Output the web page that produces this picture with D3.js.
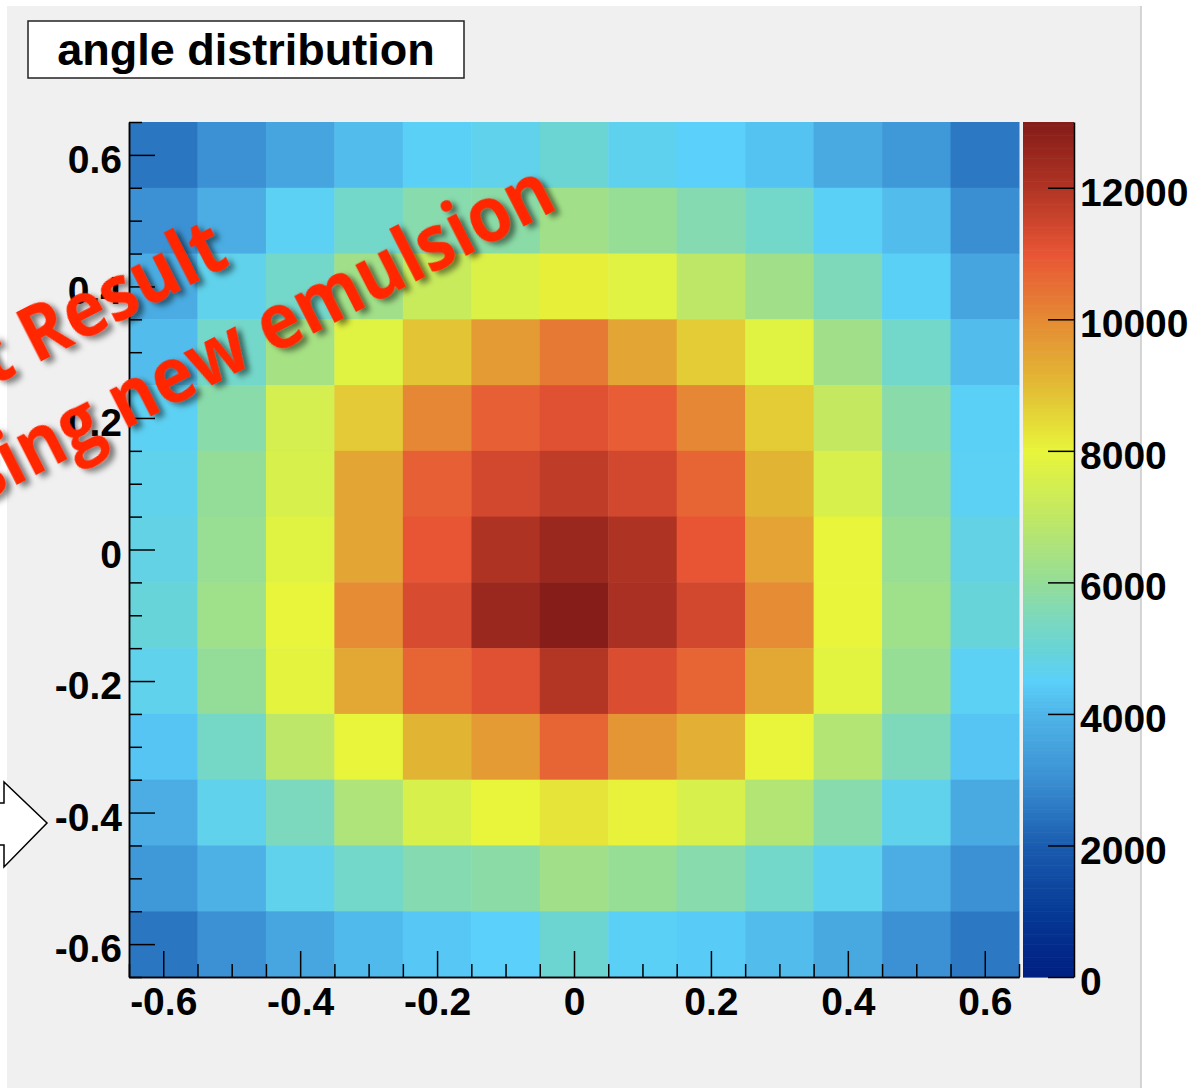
<!DOCTYPE html>
<html>
<head>
<meta charset="utf-8">
<script src="https://cdn.jsdelivr.net/npm/d3@7"></script>
<style>
  html, body { margin: 0; padding: 0; background: #ffffff; }
  svg { display: block; }
</style>
</head>
<body>
<svg id="chart" width="1196" height="1088"></svg>
<script>
// ---------- data ----------
const xBins = [-0.6, -0.5, -0.4, -0.3, -0.2, -0.1, 0.0, 0.1, 0.2, 0.3, 0.4, 0.5, 0.6];
const yBins = [0.6, 0.5, 0.4, 0.3, 0.2, 0.1, 0.0, -0.1, -0.2, -0.3, -0.4, -0.5, -0.6];
const binWidth = 0.1;
// counts per row, the row for y = 0.6 first
const counts = [
  [2500, 3050, 3550, 4150, 4550, 4700, 5050, 4650, 4500, 4250, 3700, 3250, 2550],
  [3050, 3800, 4600, 5250, 5700, 5800, 6300, 6050, 5650, 5250, 4550, 4150, 3000],
  [3750, 4700, 5250, 6300, 7200, 7700, 8100, 7800, 6950, 6300, 5500, 4550, 3550],
  [4150, 5250, 6400, 7800, 8850, 9650, 10300, 9450, 8700, 7800, 6300, 5250, 4150],
  [4600, 5750, 7500, 8750, 10050, 10800, 11150, 10850, 10050, 8700, 7100, 5750, 4550],
  [4700, 6000, 7600, 9450, 10800, 11400, 11750, 11400, 10700, 9150, 7600, 5900, 4600],
  [4800, 6100, 7800, 9450, 11000, 12050, 12500, 12050, 11000, 9500, 8000, 6100, 4800],
  [4950, 6250, 8000, 9950, 11300, 12500, 12950, 12150, 11400, 9950, 8000, 6250, 4950],
  [4700, 6000, 7900, 9400, 10700, 11150, 11950, 11250, 10700, 9400, 7850, 6050, 4600],
  [4300, 5300, 6900, 8000, 9150, 9650, 10700, 9750, 9250, 8000, 6700, 5500, 4300],
  [3800, 4700, 5450, 6600, 7600, 8000, 8300, 8050, 7600, 6700, 5700, 4700, 3700],
  [3250, 3900, 4700, 5250, 5650, 5800, 6300, 6050, 5700, 5250, 4650, 3800, 3050],
  [2500, 3050, 3600, 4100, 4350, 4500, 5100, 4550, 4400, 4150, 3650, 3050, 2550]
];
const xMajorTicks = [-0.6, -0.4, -0.2, 0, 0.2, 0.4, 0.6];
const xTickLabels = ["-0.6", "-0.4", "-0.2", "0", "0.2", "0.4", "0.6"];
const yMajorTicks = [-0.6, -0.4, -0.2, 0, 0.2, 0.4, 0.6];
const yTickLabels = ["-0.6", "-0.4", "-0.2", "0", "0.2", "0.4", "0.6"];
const minorTicks = [-0.65, -0.55, -0.5, -0.45, -0.35, -0.3, -0.25, -0.15, -0.1, -0.05,
                    0.05, 0.1, 0.15, 0.25, 0.3, 0.35, 0.45, 0.5, 0.55, 0.65];
const zTicks = [0, 2000, 4000, 6000, 8000, 10000, 12000];
const zTickLabels = ["0", "2000", "4000", "6000", "8000", "10000", "12000"];
const zMax = 13000;
const paletteValues = [0, 1000, 2000, 3000, 4000, 4500, 5000, 5500, 6000, 7000, 8000, 9000, 10000, 11000, 12000, 13000];
const paletteColors = ["#001e82", "#063a96", "#1a5caf", "#3a8fd2", "#4fb5e8", "#5ad0fa", "#68d4d6", "#7ed9bb",
                       "#94dd98", "#c0e864", "#e8f53a", "#e2bb34", "#e58a34", "#e85535", "#b03424", "#841c18"];
const titleText = "angle distribution";
const overlayLines = ["First Result", "using new emulsion"];

// ---------- layout ----------
const W = 1196, H = 1088;
const plot = { left: 129, right: 1019, top: 122, bottom: 977 };
const bar = { left: 1023, right: 1074 };
const font = "'Liberation Sans', Arial, Helvetica, sans-serif";

const svg = d3.select("#chart");

// canvas background
svg.append("rect").attr("x", 7).attr("y", 6).attr("width", 1134).attr("height", H - 6).attr("fill", "#f0f0f0");
svg.append("line").attr("x1", 1141).attr("x2", 1141).attr("y1", 6).attr("y2", H)
  .attr("stroke", "#c8c8c8").attr("stroke-width", 1.5);

const x = d3.scaleLinear().domain([-0.65, 0.65]).range([plot.left, plot.right]);
const y = d3.scaleLinear().domain([-0.65, 0.65]).range([plot.bottom, plot.top]);
const color = d3.scaleLinear().domain(paletteValues).range(paletteColors).interpolate(d3.interpolateRgb).clamp(true);
const z = d3.scaleLinear().domain([0, zMax]).range([plot.bottom, plot.top]);

// cells
const cells = [];
counts.forEach((row, i) => row.forEach((v, j) => cells.push({ x: xBins[j], y: yBins[i], v })));
svg.append("g").selectAll("rect").data(cells).join("rect")
  .attr("x", d => x(d.x - binWidth / 2))
  .attr("y", d => y(d.y + binWidth / 2))
  .attr("width", d => x(d.x + binWidth / 2) - x(d.x - binWidth / 2) + 0.5)
  .attr("height", d => y(d.y - binWidth / 2) - y(d.y + binWidth / 2) + 0.5)
  .attr("fill", d => color(d.v));

// axes
function styleAxis(g) {
  g.selectAll("path, line").attr("stroke", "#000").attr("stroke-width", 1.5);
  g.selectAll("text").attr("font-family", font).attr("font-weight", "bold").attr("font-size", 39).attr("fill", "#000");
}
const xAxis = svg.append("g").attr("transform", `translate(0,${plot.bottom})`)
  .call(d3.axisBottom(x).tickValues(xMajorTicks).tickSize(-26).tickSizeOuter(0).tickPadding(10)
    .tickFormat((d, i) => xTickLabels[i]));
styleAxis(xAxis);
const xMinor = svg.append("g").attr("transform", `translate(0,${plot.bottom})`)
  .call(d3.axisBottom(x).tickValues(minorTicks).tickSize(-13).tickSizeOuter(0).tickFormat(""));
styleAxis(xMinor);

const yAxis = svg.append("g").attr("transform", `translate(${plot.left},0)`)
  .call(d3.axisLeft(y).tickValues(yMajorTicks).tickSize(-26).tickSizeOuter(0).tickPadding(7)
    .tickFormat((d, i) => yTickLabels[i]));
styleAxis(yAxis);
yAxis.selectAll("text").attr("dy", "0.45em");
const yMinor = svg.append("g").attr("transform", `translate(${plot.left},0)`)
  .call(d3.axisLeft(y).tickValues(minorTicks).tickSize(-13).tickSizeOuter(0).tickFormat(""));
styleAxis(yMinor);

// colour bar
const bands = d3.range(0, zMax, 50);
svg.append("g").selectAll("rect").data(bands).join("rect")
  .attr("x", bar.left).attr("width", bar.right - bar.left)
  .attr("y", d => z(d + 50)).attr("height", d => z(d) - z(d + 50) + 0.6)
  .attr("fill", d => color(d + 25));
const zAxis = svg.append("g").attr("transform", `translate(${bar.right},0)`)
  .call(d3.axisRight(z).tickValues(zTicks).tickSize(-26).tickSizeOuter(0).tickPadding(6)
    .tickFormat((d, i) => zTickLabels[i]));
styleAxis(zAxis);
zAxis.selectAll("text").attr("dy", "0.45em");

// title box
svg.append("rect").attr("x", 28).attr("y", 21).attr("width", 436).attr("height", 57)
  .attr("fill", "#fff").attr("stroke", "#222").attr("stroke-width", 1.5);
svg.append("text").attr("x", 246).attr("y", 65).attr("text-anchor", "middle")
  .attr("font-family", font).attr("font-weight", "bold").attr("font-size", 45).text(titleText);

// arrow shape at left
svg.append("path")
  .attr("d", "M-2,803 L4,803 L4,782 L47,823 L4,867 L4,845 L-2,845")
  .attr("fill", "#fff").attr("stroke", "#000").attr("stroke-width", 1.5);

// overlay red text with shadow
const defs = svg.append("defs");
const f = defs.append("filter").attr("id", "shadow").attr("x", "-20%").attr("y", "-40%").attr("width", "140%").attr("height", "180%");
f.append("feDropShadow").attr("dx", 4).attr("dy", 5).attr("stdDeviation", 3)
  .attr("flood-color", "#000").attr("flood-opacity", 0.5);
const overlayAnchors = [[232, 264], [560, 208]];
overlayLines.forEach((t, i) => {
  svg.append("text")
    .attr("transform", `translate(${overlayAnchors[i][0]},${overlayAnchors[i][1]}) rotate(-27) scale(0.9,1)`)
    .attr("text-anchor", "end")
    .attr("font-family", "'Open Sans', 'Noto Sans', sans-serif")
    .attr("font-weight", 700).attr("font-size", 78)
    .attr("fill", "#ff2600").attr("filter", "url(#shadow)")
    .text(t);
});
</script>
</body>
</html>
